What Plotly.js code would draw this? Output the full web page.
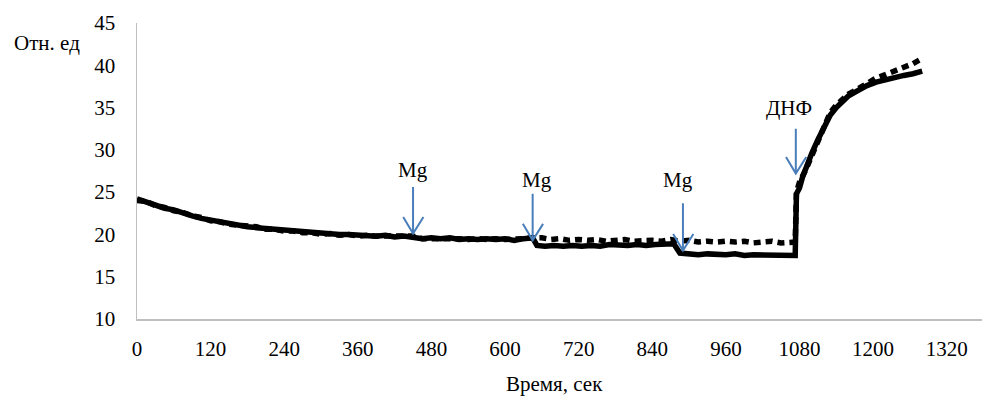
<!DOCTYPE html>
<html>
<head>
<meta charset="utf-8">
<script src="https://cdn.plot.ly/plotly-3.0.1.min.js"></script>
<style>html,body{margin:0;padding:0;background:#fff;}#chart{width:982px;height:396px;}</style>
</head>
<body>
<div id="chart"></div>
<script>
// Time, seconds
const timeSolid = [0,15,30,45,60,75,90,105,120,135,150,165,180,195,210,225,240,255,270,285,300,315,330,345,360,375,390,405,420,435,450,465,480,495,510,525,540,555,570,585,600,615,630,645,652,665,680,695,710,725,740,755,770,785,800,815,830,845,860,875,885,900,915,930,945,960,975,990,1005,1020,1035,1050,1065,1073,1075,1080,1085,1090,1100,1110,1120,1130,1140,1150,1160,1175,1190,1205,1220,1235,1250,1265,1280];
const valuesSolid = [24.2,23.8,23.5,23.1,22.9,22.5,22.2,21.9,21.7,21.4,21.3,21.1,20.9,20.8,20.7,20.6,20.5,20.4,20.3,20.2,20.1,20.1,20.0,20.0,19.9,19.9,19.8,19.9,19.7,19.8,19.7,19.5,19.6,19.5,19.6,19.4,19.5,19.4,19.5,19.4,19.5,19.3,19.5,19.6,18.7,18.6,18.7,18.6,18.7,18.6,18.7,18.6,18.8,18.7,18.7,18.8,18.7,18.8,18.8,18.9,17.8,17.7,17.6,17.7,17.6,17.6,17.7,17.5,17.6,17.6,17.5,17.6,17.5,17.5,24.8,25.5,26.8,27.8,29.6,31.2,32.8,34.1,35.0,35.8,36.4,37.0,37.6,38.0,38.3,38.6,38.8,39.0,39.3];

const timeDashed = [0,15,30,45,60,75,90,105,120,135,150,165,180,195,210,225,240,255,270,285,300,315,330,345,360,375,390,405,420,435,450,465,480,495,510,525,540,555,570,585,600,615,630,645,660,675,690,705,720,735,750,765,780,795,810,825,840,855,870,885,900,915,930,945,960,975,990,1005,1020,1035,1050,1065,1073,1075,1080,1090,1100,1110,1120,1130,1140,1150,1160,1175,1190,1205,1220,1235,1250,1265,1280];
const valuesDashed = [24.0,23.9,23.4,23.2,22.8,22.6,22.2,22.0,21.6,21.5,21.2,21.1,20.9,20.9,20.6,20.6,20.4,20.4,20.2,20.2,20.0,20.1,19.9,20.0,19.8,19.9,19.8,19.8,19.8,19.7,19.8,19.5,19.5,19.6,19.5,19.5,19.4,19.5,19.4,19.5,19.4,19.4,19.5,19.6,19.6,19.4,19.5,19.3,19.4,19.3,19.4,19.2,19.3,19.4,19.2,19.3,19.3,19.2,19.4,19.2,19.3,19.1,19.2,19.1,19.2,19.1,19.2,19.0,19.1,19.2,19.0,19.1,19.1,25.0,26.2,27.6,29.3,31.0,32.9,34.4,35.3,36.0,36.6,37.2,37.9,38.5,38.9,39.3,39.7,40.2,40.8];

const xTicks = [0,120,240,360,480,600,720,840,960,1080,1200,1320];
const yTicks = [10,15,20,25,30,35,40,45];

// Event markers (arrow tip time/value, label)
const eventLabels = ['Mg','Mg','Mg','ДНФ'];
const eventTimes = [450,645,890,1074];
const eventTipValues = [20.1,19.3,18.1,27.2];

const FONT = 'Liberation Serif, Times New Roman, serif';
const ARROW_COLOR = '#4A7EBB';
const arrowLen = [5.5,5.5,5.6,5.3];
const labelOffset = [7.5,7.1,8.3,7.8];
const labelDt = [0,7,-8,-11];

const shapes = [];
const annotations = [];
eventTimes.forEach((t,i)=>{
  const v = eventTipValues[i];
  const top = v + arrowLen[i];
  shapes.push({type:'path', xref:'x', yref:'y',
    path:`M ${t},${top} L ${t},${v} M ${t-16},${v+1.95} L ${t},${v} L ${t+17},${v+1.95}`,
    line:{color:ARROW_COLOR, width:2}});
  annotations.push({x:t+labelDt[i], y:v+labelOffset[i], xref:'x', yref:'y', text:eventLabels[i],
    showarrow:false, font:{family:FONT, size:21, color:'#000'}, xanchor:'center', yanchor:'middle'});
});
annotations.push({xref:'paper', yref:'paper', x:(12-137)/845, y:1-(43-23)/296, text:'Отн. ед',
  showarrow:false, xanchor:'left', yanchor:'middle', font:{family:FONT, size:21, color:'#000'}});
annotations.push({xref:'paper', yref:'paper', x:(554-137)/845, y:-(384-319)/296, text:'Время, сек',
  showarrow:false, xanchor:'center', yanchor:'middle', font:{family:FONT, size:21, color:'#000'}});

const traces = [
  {x:timeSolid, y:valuesSolid, type:'scatter', mode:'lines', line:{color:'#000', width:5.5}, hoverinfo:'skip'},
  {x:timeDashed, y:valuesDashed, type:'scatter', mode:'lines', line:{color:'#000', width:5.5, dash:'7px,5px'}, hoverinfo:'skip'}
];

const layout = {
  width:982, height:396,
  margin:{l:137, r:0, t:23, b:77},
  paper_bgcolor:'#fff', plot_bgcolor:'#fff',
  showlegend:false,
  font:{family:FONT, size:21, color:'#000'},
  xaxis:{range:[0,1377.5], tickvals:xTicks, ticktext:xTicks.map(String), showgrid:false, zeroline:false,
    showline:true, linecolor:'#BFBFBF', linewidth:1.5, ticks:'', ticklabelstandoff:10,
    tickfont:{family:FONT, size:21, color:'#000'}},
  yaxis:{range:[10,45], tickvals:yTicks, ticktext:yTicks.map(String), showgrid:false, zeroline:false,
    showline:true, linecolor:'#BFBFBF', linewidth:1.5, ticks:'', ticklabelstandoff:16,
    tickfont:{family:FONT, size:21, color:'#000'}},
  shapes:shapes,
  annotations:annotations
};
Plotly.newPlot('chart', traces, layout, {staticPlot:true, displayModeBar:false});
</script>
</body>
</html>
